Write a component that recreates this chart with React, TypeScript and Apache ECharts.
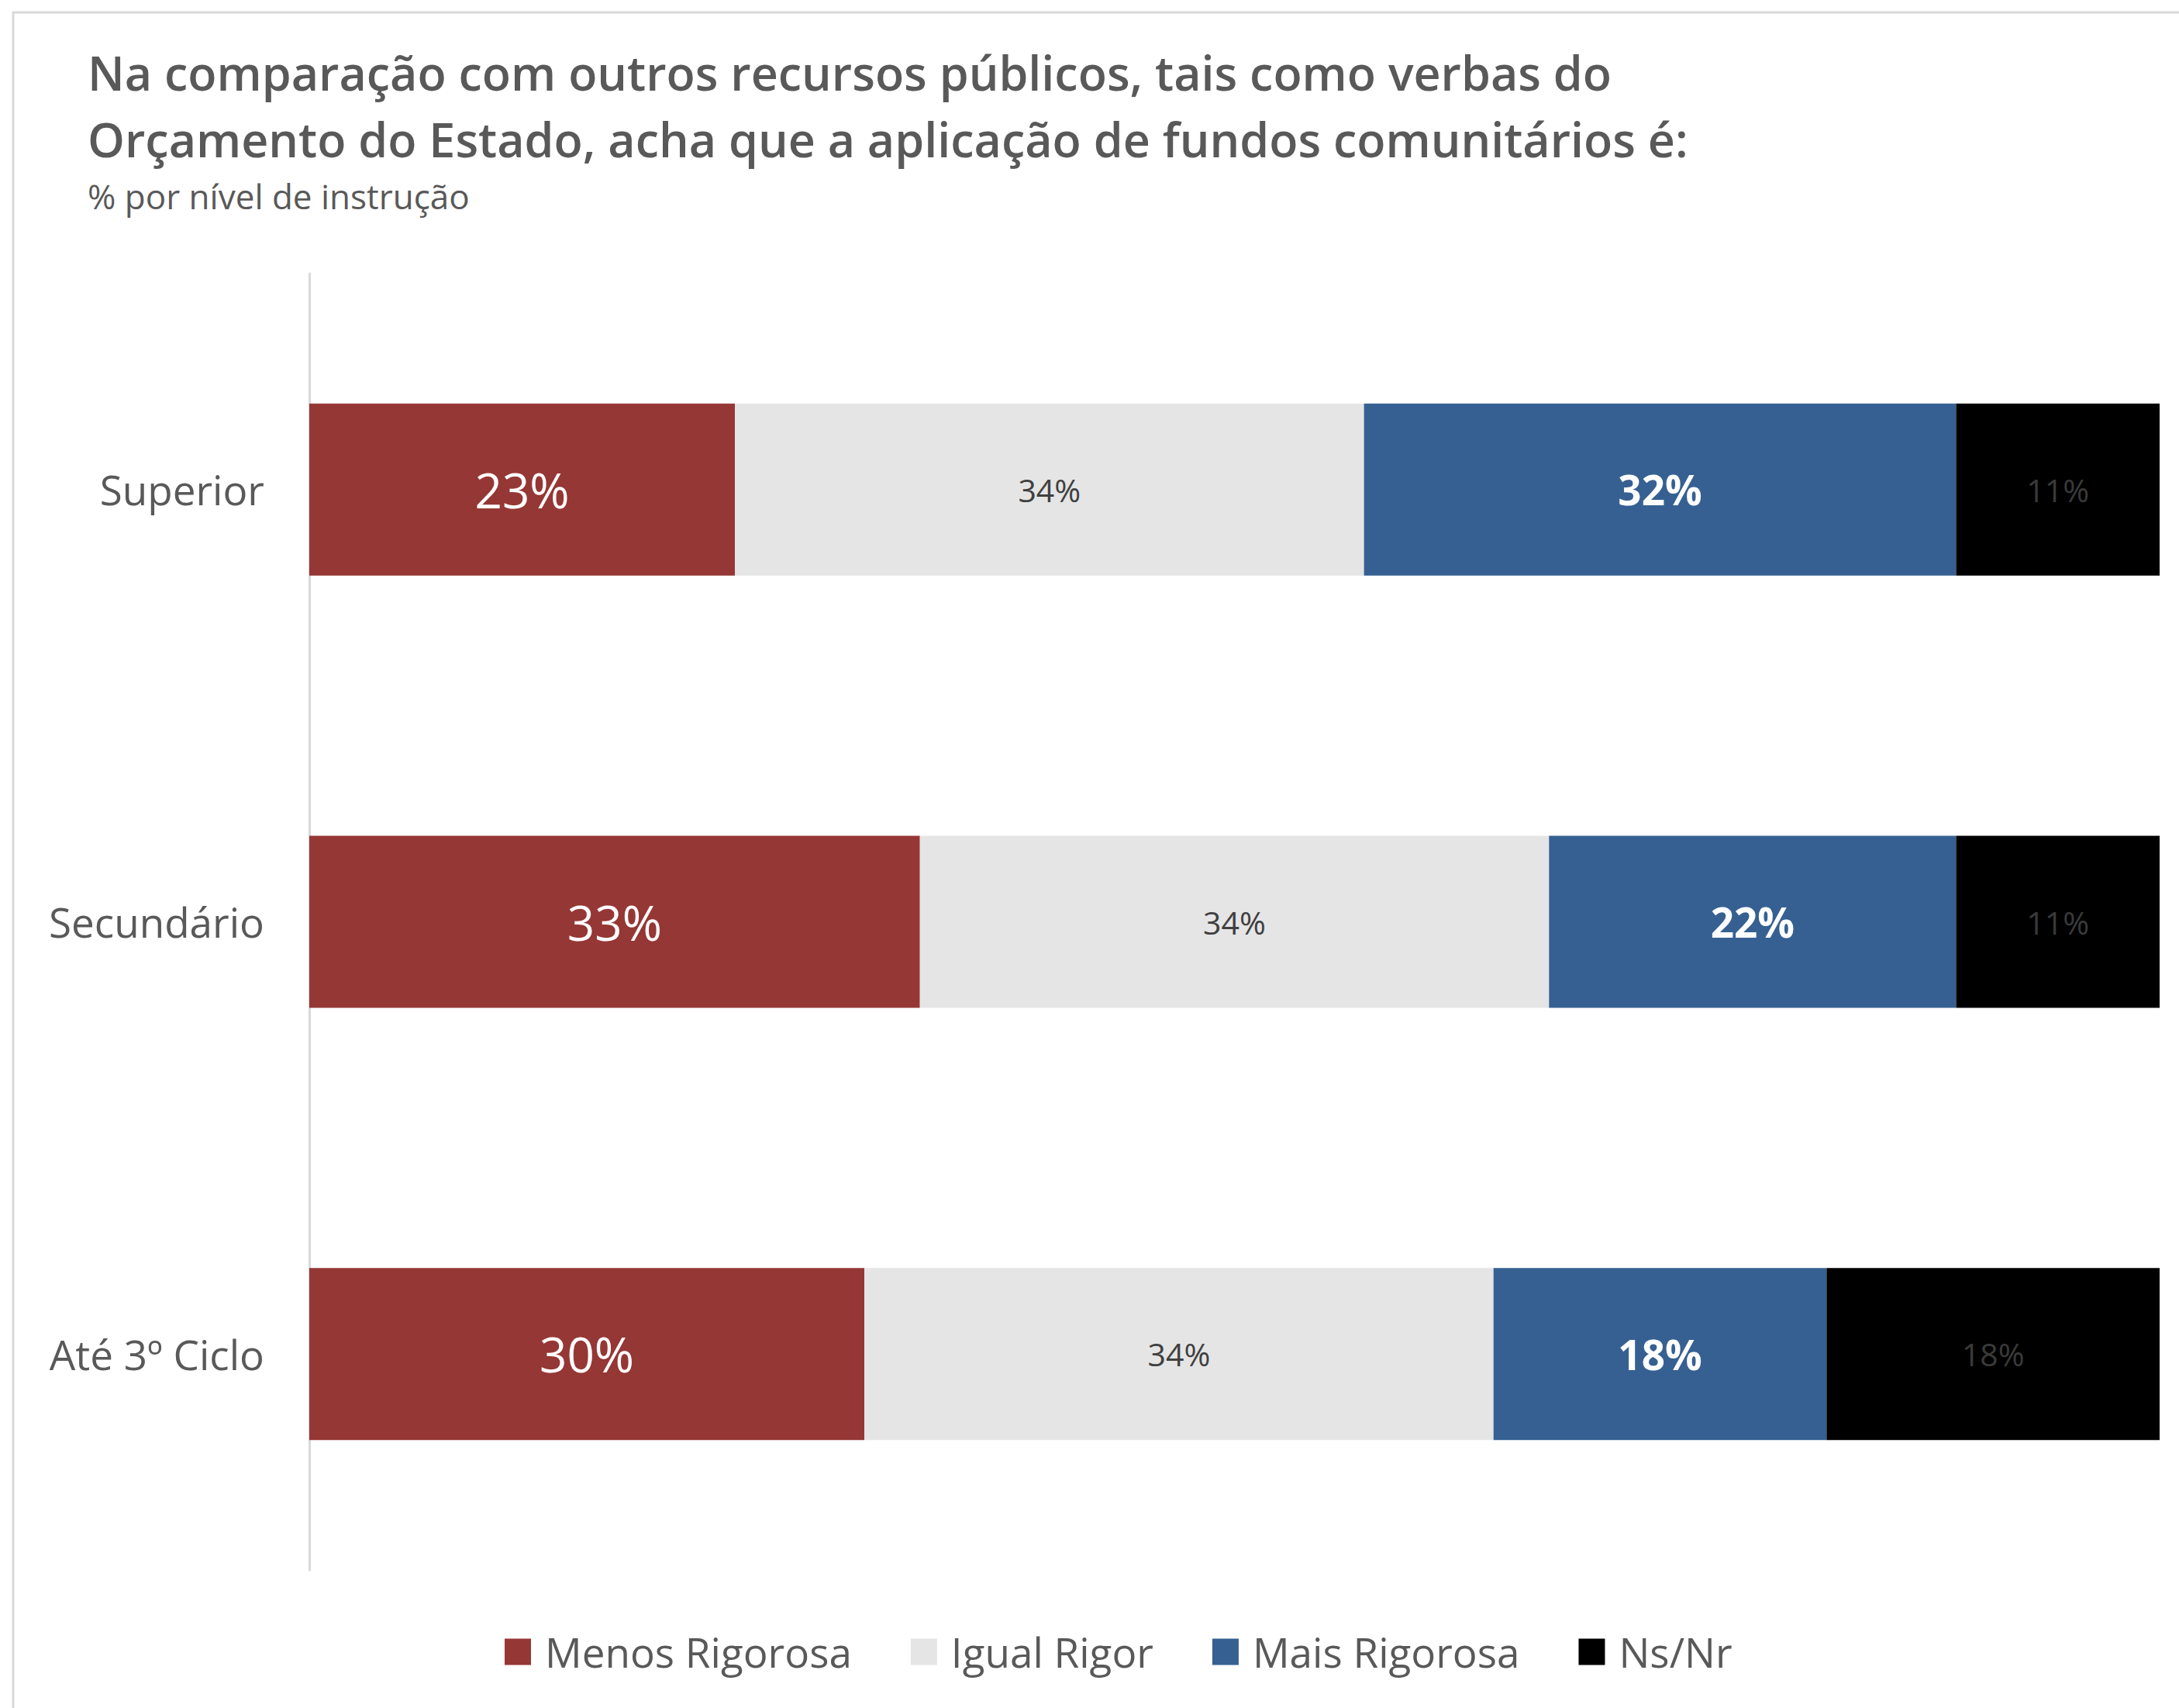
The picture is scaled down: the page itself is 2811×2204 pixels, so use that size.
import React, { useEffect, useRef } from "react";
import * as echarts from "echarts";

const categories = ["Superior", "Secundário", "Até 3º Ciclo"];
const menosRigorosa = [23, 33, 30];
const igualRigor = [34, 34, 34];
const maisRigorosa = [32, 22, 18];
const nsNr = [11, 11, 18];
const seriesNames = ["Menos Rigorosa", "Igual Rigor", "Mais Rigorosa", "Ns/Nr"];

const titleText =
  "Na comparação com outros recursos públicos, tais como verbas do\nOrçamento do Estado, acha que a aplicação de fundos comunitários é:";
const subtitleText = "% por nível de instrução";

const FONT = "'Open Sans', 'Noto Sans', sans-serif";

export default function App() {
  const ref = useRef<HTMLDivElement>(null);

  useEffect(() => {
    if (!ref.current) return;
    const chart = echarts.init(ref.current, null, { renderer: "svg" });

    const mk = (
      name: string,
      data: number[],
      color: string,
      labelColor: string,
      fontSize: number,
      fontWeight: string
    ) => ({
      name,
      type: "bar",
      stack: "total",
      data,
      barWidth: 222,
      itemStyle: { color },
      label: {
        show: true,
        position: "inside",
        formatter: "{c}%",
        color: labelColor,
        fontSize,
        fontWeight,
        fontFamily: FONT,
      },
    });

    chart.setOption({
      animation: false,
      backgroundColor: "#ffffff",
      graphic: [
        {
          type: "rect",
          shape: { x: 17, y: 16, width: 4000, height: 4000 },
          style: { fill: "none", stroke: "#d9d9d9", lineWidth: 3 },
          silent: true,
          z: -10,
        },
      ],
      title: [
        {
          text: titleText,
          left: 108,
          top: 45,
          textStyle: {
            fontFamily: FONT,
            fontSize: 61,
            fontWeight: 600,
            color: "#595959",
            lineHeight: 86,
          },
        },
        {
          text: subtitleText,
          left: 108,
          top: 226,
          textStyle: {
            fontFamily: FONT,
            fontSize: 44,
            fontWeight: "normal",
            color: "#595959",
          },
        },
      ],
      legend: {
        data: seriesNames,
        left: 646,
        top: 2100,
        itemWidth: 34,
        itemHeight: 34,
        itemGap: 76,
        icon: "rect",
        textStyle: {
          fontFamily: FONT,
          fontSize: 53,
          color: "#595959",
          padding: [0, 0, 0, 13],
        },
      },
      grid: {
        left: 399,
        right: 25,
        top: 353,
        bottom: 178,
        containLabel: false,
      },
      xAxis: {
        type: "value",
        min: 0,
        max: 100,
        show: false,
      },
      yAxis: {
        type: "category",
        data: categories,
        inverse: true,
        axisTick: { show: false },
        axisLine: { show: true, lineStyle: { color: "#d9d9d9", width: 3 } },
        axisLabel: {
          margin: 58,
          fontFamily: FONT,
          fontSize: 53,
          color: "#595959",
        },
      },
      series: [
        mk(seriesNames[0], menosRigorosa, "#953735", "#ffffff", 62, "normal"),
        mk(seriesNames[1], igualRigor, "#e5e5e5", "#404040", 41, "normal"),
        mk(seriesNames[2], maisRigorosa, "#366092", "#ffffff", 53, "bold"),
        mk(seriesNames[3], nsNr, "#000000", "#3a3a3a", 41, "normal"),
      ],
    });

    return () => chart.dispose();
  }, []);

  return (
    <div
      ref={ref}
      style={{ position: "absolute", left: 0, top: 0, width: 2811, height: 2204 }}
    />
  );
}
